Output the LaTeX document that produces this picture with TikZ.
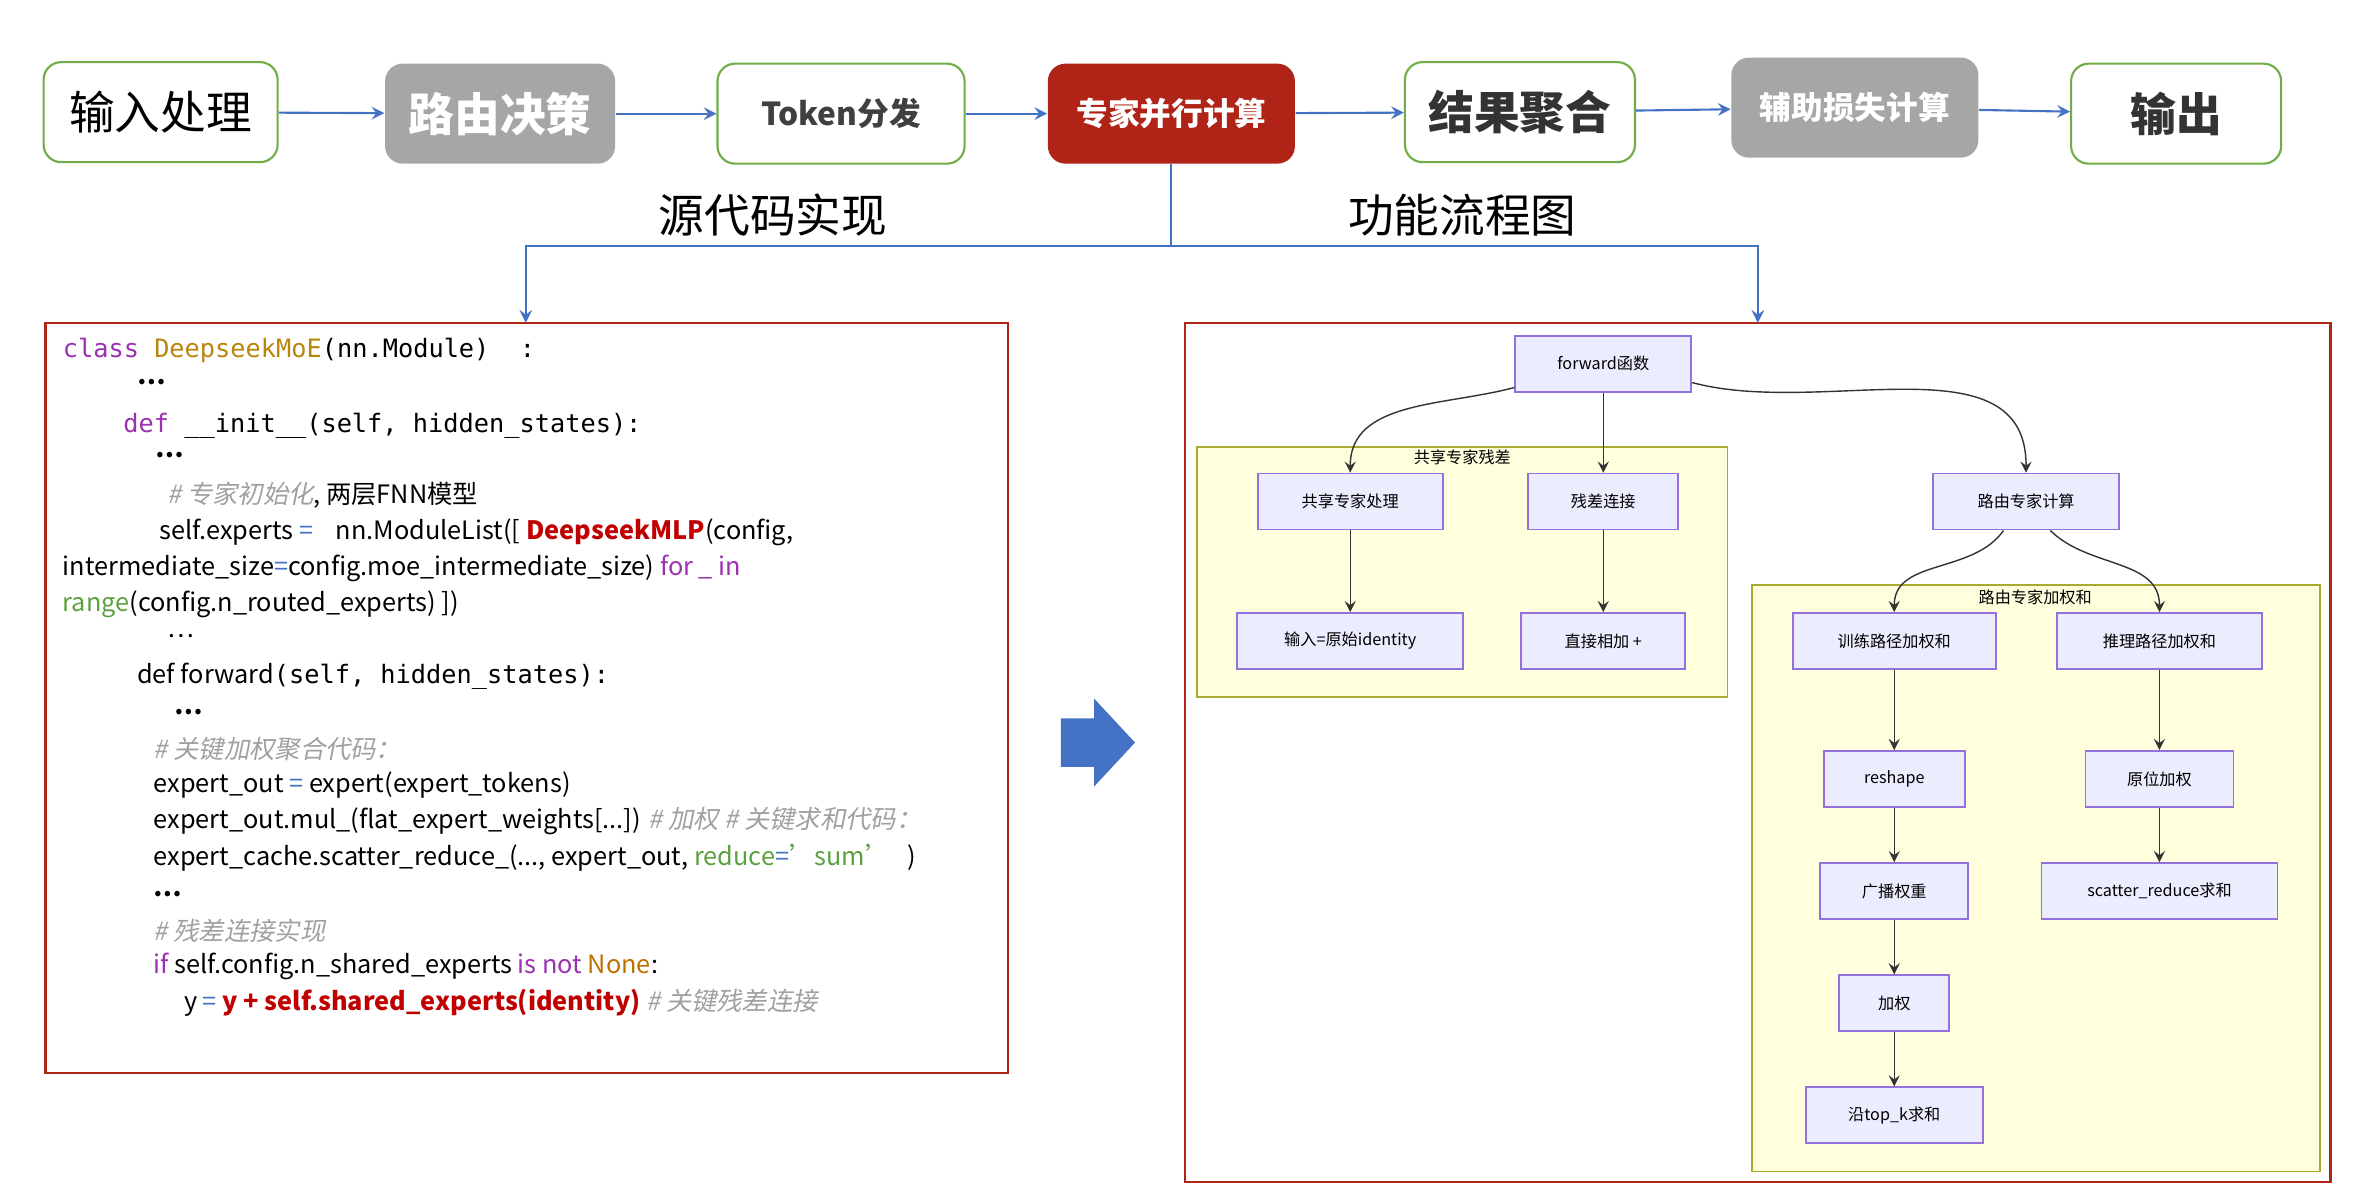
\documentclass[tikz,border=0pt]{standalone}
\usepackage{fontspec}
\setmainfont{Noto Sans CJK SC}[ItalicFont=Noto Sans CJK SC, ItalicFeatures={FakeSlant=0.2}]
\setmonofont{DejaVu Sans Mono}
\usetikzlibrary{positioning,arrows.meta}

\definecolor{flowblue}{HTML}{4472C4}
\definecolor{boxgreen}{HTML}{70AD47}
\definecolor{boxgray}{HTML}{A6A6A6}
\definecolor{boxred}{HTML}{B02418}
\definecolor{nodefill}{HTML}{ECECFF}
\definecolor{nodeline}{HTML}{9370DB}
\definecolor{grpfill}{HTML}{FFFFDE}
\definecolor{grpline}{HTML}{AAAA33}
\definecolor{kwpurple}{HTML}{9B30B0}
\definecolor{clsgold}{HTML}{B8860B}
\definecolor{hotred}{HTML}{C00000}
\definecolor{strgreen}{HTML}{5CA040}
\definecolor{cmtgray}{HTML}{A0A0A0}
\definecolor{noneorange}{HTML}{C07000}

\newcommand{\fTop}{\fontsize{13}{15}\selectfont}
\newcommand{\fMid}{\fontsize{9}{11}\selectfont}
\newcommand{\fCode}{\fontsize{7.2}{9}\selectfont}
\newcommand{\fFlow}{\fontsize{4.6}{6}\selectfont}
\newcommand{\cmt}[1]{\textcolor{cmtgray}{\itshape #1}}
\newcommand{\kw}[1]{\textcolor{kwpurple}{#1}}
\newcommand{\hot}[1]{\textcolor{hotred}{\bfseries #1}}
\newcommand{\eqs}{\textcolor{flowblue}{=}}

\begin{document}
\begin{tikzpicture}[
    x=0.01515cm, y=-0.01515cm, >=stealth,
    % --- top row ---
    stage/.style={draw=boxgreen, line width=0.6pt, fill=white, rounded corners=5pt,
                 minimum width=2.3cm, minimum height=1.0cm, align=center},
    stagegray/.style={fill=boxgray, rounded corners=5pt, text=white,
                 minimum width=2.3cm, minimum height=1.0cm, align=center},
    flow/.style={->, draw=flowblue, line width=0.6pt},
    % --- code panel ---
    code/.style={anchor=west, font=\fCode, inner sep=0pt},
    % --- flow chart ---
    fn/.style={draw=nodeline, fill=nodefill, line width=0.5pt, font=\fFlow,
               minimum height=0.56cm, inner sep=2pt},
    grp/.style={draw=grpline, fill=grpfill, line width=0.5pt},
    edge/.style={->, draw=black!80, line width=0.4pt},
]
\useasboundingbox (0,0) rectangle (1560,791);

%% ---- top row ----
\node[stage, minimum width=2.34cm, font=\fTop] (inp) at (106,74) {输入处理};
\node[stagegray, font=\fTop\bfseries] (route) at (330,75) {路由决策};
\node[stage, minimum width=2.47cm, font=\fMid\bfseries, text=black!75] (tok) at (555,75) {Token分发};
\node[stagegray, fill=boxred, minimum width=2.47cm, font=\fMid\bfseries] (par) at (773,75) {专家并行计算};
\node[stage, font=\fTop\bfseries, text=black!80] (agg) at (1003,74) {结果聚合};
\node[stagegray, minimum width=2.47cm, font=\fMid\bfseries] (aux) at (1224,71) {辅助损失计算};
\node[stage, minimum width=2.1cm, font=\fTop\bfseries, text=black!80] (out) at (1436,75) {输出};

\draw[flow] (inp) -- (route);
\draw[flow] (route) -- (tok);
\draw[flow] (tok) -- (par);
\draw[flow] (par) -- (agg);
\draw[flow] (agg) -- (aux);
\draw[flow] (aux) -- (out);

\node[font=\fTop] (srclbl) at (510,142) {源代码实现};
\node[font=\fTop] (flowlbl) at (965,142) {功能流程图};

%% ---- panels ----
\draw[draw=boxred, line width=0.7pt] (30,213) rectangle (665,708);
\draw[draw=boxred, line width=0.7pt] (782,213) rectangle (1538,780);
\coordinate (codetop) at (347,213);
\coordinate (charttop) at (1160,213);
\draw[flow] (par.south) -- ++(0,54) -| (codetop);
\draw[flow] (par.south) -- ++(0,54) -| (charttop);

%% big arrow
\fill[flowblue] (700,474) -- (722,474) -- (722,461) -- (749,490) -- (722,519) -- (722,506) -- (700,506) -- cycle;

%% ---- code lines ----
\node[code] (c1) at (41,231) {\texttt{\kw{class} \textcolor{clsgold}{DeepseekMoE}(nn.Module)\ \ :}};
\node[code] (c2) at (90,252) {\bfseries …};
\node[code] (c3) at (81,281) {\texttt{\kw{def} \_\_init\_\_(self, hidden\_states):}};
\node[code] (c4) at (102,300) {\bfseries …};
\node[code] (c5) at (110,327) {\cmt{\# 专家初始化}, 两层FNN模型};
\node[code] (c6) at (105,351) {self.experts \eqs{}\ \ \ \ nn.ModuleList([ \hot{DeepseekMLP}(config,};
\node[code] (c7) at (41,375) {intermediate\_size\eqs{}config.moe\_intermediate\_size) \kw{for \_ in}};
\node[code] (c8) at (41,399) {\textcolor{strgreen}{range}(config.n\_routed\_experts) ])};
\node[code] (c9) at (110,420) {…};
\node[code] (c10) at (90,446) {def forward\texttt{(self, hidden\_states):}};
\node[code] (c11) at (115,470) {\bfseries …};
\node[code] (c12) at (101,494) {\cmt{\# 关键加权聚合代码：}};
\node[code] (c13) at (101,518) {expert\_out \eqs{} expert(expert\_tokens)};
\node[code] (c14) at (101,542) {expert\_out.mul\_(flat\_expert\_weights[...]) \cmt{\# 加权 \# 关键求和代码：}};
\node[code] (c15) at (101,566) {expert\_cache.scatter\_reduce\_(..., expert\_out, \textcolor{strgreen}{reduce\textcolor{flowblue}{=}'sum'}\ \ \ )};
\node[code] (c16) at (101,590) {\bfseries …};
\node[code] (c17) at (101,614) {\cmt{\# 残差连接实现}};
\node[code] (c18) at (101,638) {\kw{if} self.config.n\_shared\_experts \kw{is not} \textcolor{noneorange}{None}:};
\node[code] (c19) at (121,662) {y \eqs{} \hot{y + self.shared\_experts(identity)} \cmt{\# 关键残差连接}};

%% ---- flow chart groups ----
\draw[grp] (790,295) rectangle (1140,460);
\node[font=\fFlow] (g1) at (965,302) {共享专家残差};
\draw[grp] (1156,386) rectangle (1531,773);
\node[font=\fFlow] (g2) at (1343,394) {路由专家加权和};

%% ---- flow chart nodes ----
\node[fn, minimum width=1.76cm] (fwd) at (1058,240) {forward函数};
\node[fn, minimum width=1.85cm] (shp) at (891,331) {共享专家处理};
\node[fn, minimum width=1.5cm] (res) at (1058,331) {残差连接};
\node[fn, minimum width=2.26cm] (idn) at (891,423) {输入=原始identity};
\node[fn, minimum width=1.64cm] (add) at (1058,423) {直接相加 +};
\node[fn, minimum width=1.86cm] (rte) at (1337,331) {路由专家计算};
\node[fn, minimum width=2.03cm] (trn) at (1250,423) {训练路径加权和};
\node[fn, minimum width=2.05cm] (inf) at (1425,423) {推理路径加权和};
\node[fn, minimum width=1.41cm] (rsh) at (1250,514) {reshape};
\node[fn, minimum width=1.48cm] (inw) at (1425,514) {原位加权};
\node[fn, minimum width=1.48cm] (bcw) at (1250,588) {广播权重};
\node[fn, minimum width=2.36cm] (scr) at (1425,588) {scatter\_reduce求和};
\node[fn, minimum width=1.1cm] (wgt) at (1250,662) {加权};
\node[fn, minimum width=1.77cm] (tpk) at (1250,736) {沿top\_k求和};

\draw[edge] (fwd.195) to[out=195, in=90] (shp.north);
\draw[edge] (fwd) -- (res);
\draw[edge] (fwd.-12) to[out=-15, in=90] (rte.north);
\draw[edge] (shp) -- (idn);
\draw[edge] (res) -- (add);
\draw[edge] (rte.232) to[out=235, in=90] (trn.north);
\draw[edge] (rte.-50) to[out=-45, in=90] (inf.north);
\draw[edge] (trn) -- (rsh);
\draw[edge] (rsh) -- (bcw);
\draw[edge] (bcw) -- (wgt);
\draw[edge] (wgt) -- (tpk);
\draw[edge] (inf) -- (inw);
\draw[edge] (inw) -- (scr);
\end{tikzpicture}
\end{document}
